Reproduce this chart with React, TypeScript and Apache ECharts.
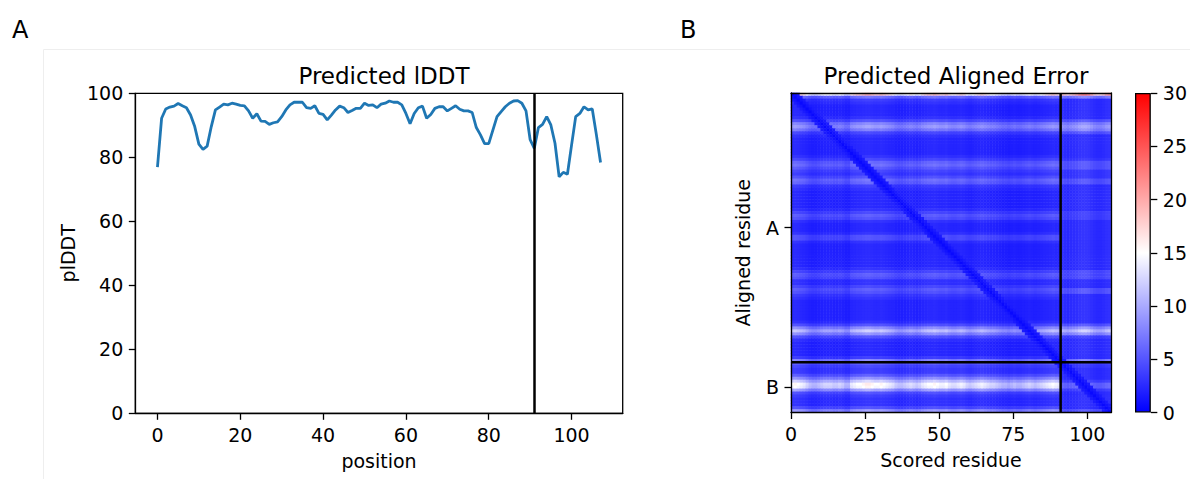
import React, { useEffect, useRef } from "react";
import * as echarts from "echarts";

// ---------- data ----------
const plddt: number[] = [
  76.9, 92.2, 95.1, 95.7, 96.0, 96.8, 96.1, 95.5, 93.2, 89.6,
  84.1, 82.5, 83.5, 89.6, 94.8, 95.7, 96.6, 96.4, 96.9, 96.6,
  96.2, 96.1, 94.5, 92.2, 93.6, 91.3, 91.2, 90.3, 90.8, 91.1,
  92.7, 94.8, 96.4, 97.2, 97.2, 97.2, 95.5, 95.3, 96.1, 93.7,
  93.4, 91.7, 93.2, 94.8, 96.0, 95.5, 94.0, 94.6, 95.3, 95.3,
  96.9, 96.2, 96.4, 95.5, 96.6, 96.9, 97.6, 97.2, 97.2, 96.4,
  93.7, 90.5, 93.7, 95.5, 96.0, 92.2, 93.4, 95.3, 95.8, 95.8,
  94.5, 95.3, 96.1, 95.0, 94.5, 94.5, 94.0, 89.3, 87.0, 84.3,
  84.3, 88.5, 92.7, 94.3, 95.8, 96.9, 97.6, 97.7, 96.9, 94.5,
  85.5, 82.8, 89.3, 90.3, 92.7, 90.1, 84.4, 73.9, 75.3, 74.7,
  83.8, 92.7, 93.7, 95.8, 94.8, 95.1, 87.0, 78.4,
];

const chainLabels = ["A", "B"];
const chainStarts = [0, 91];
const chainLengths = [91, 17];
const positionTicks = [0, 20, 40, 60, 80, 100];

// PAE level of each aligned-residue row, against scored residues of chain A
const rowErrA: number[] = [
  15, 5.5, 3, 2.5, 2, 2, 2, 2, 2.5, 4,
  6.5, 7.5, 6, 3.5, 2.5, 2, 2, 2, 2, 2,
  2, 2.5, 3.5, 5, 5.5, 4.5, 3.5, 3, 4, 5.5,
  5, 3, 2.5, 2, 2, 2, 2, 2, 2, 2.5,
  3.5, 4.5, 4, 2.5, 2, 2, 2, 2.5, 4, 4,
  2.5, 2, 2, 2, 2, 2, 2, 2, 2, 2.5,
  3.5, 4.5, 4, 2.5, 2.5, 3.5, 4.5, 4, 3, 2.5,
  2, 2, 2, 2, 2, 2, 2, 2.5, 4, 7,
  9.5, 7, 4, 2.5, 2, 2, 2, 2, 2, 3,
  6.5, 4.5, 3.5, 3, 3, 4.5, 7, 10, 12.5, 12,
  8, 4, 3, 2.5, 2.5, 2.5, 4, 7.5,
];
// PAE level of each aligned-residue row, against scored residues of chain B
const rowErrB: number[] = [
  18, 6.5, 2.5, 2.5, 2.5, 2.5, 2.5, 2.5, 2.5, 4.5,
  7, 8, 7, 4.5, 2.5, 2.5, 2.5, 2.5, 2.5, 2.5,
  2.5, 2.5, 3, 4.5, 4.5, 4.5, 3, 3, 3, 4.5,
  4.5, 2.5, 2.5, 2.5, 2.5, 2.5, 2.5, 2.5, 2.5, 2.5,
  3.5, 3.5, 3.5, 2.5, 2.5, 2.5, 2.5, 2.5, 2.5, 2.5,
  2.5, 2.5, 2.5, 2.5, 2.5, 2.5, 2.5, 2.5, 2.5, 2.5,
  4, 4, 4, 2.5, 2.5, 2.5, 4.5, 4.5, 2.5, 2.5,
  2.5, 2.5, 2.5, 2.5, 2.5, 2.5, 2.5, 2.5, 4.5, 7.5,
  10, 7.5, 3.5, 2.5, 2.5, 2.5, 2.5, 2.5, 2.5, 2.5,
  6.5, 3.5, 3, 2.5, 2.5, 2.5, 2.5, 3.5, 5.5, 5.5,
  3.5, 2.5, 2.5, 2.5, 2.5, 2.5, 2.5, 4.5,
];
// relative lightness of each scored-residue column
const colFactor: number[] = [
  1.2, 1.25, 1.2, 1.15, 1.1, 1.0,
  0.9, 0.85, 0.85, 0.9,
  0.95, 1.0, 1.0, 1.0, 0.95, 0.95, 1.0, 0.95,
  0.85, 0.85,
  1.1, 1.15, 1.2, 1.2, 1.25, 1.3, 1.3, 1.25, 1.2, 1.2, 1.25, 1.2, 1.15, 1.1, 1.05,
  0.95, 0.9, 0.9, 0.95, 1.0, 1.05, 1.0, 0.95, 1.0,
  1.1, 1.15, 1.2, 1.2, 1.25, 1.2, 1.15, 1.15, 1.2, 1.1, 1.05, 1.05, 1.1, 1.15, 1.1, 1.0, 0.95,
  1.0, 1.05, 1.1, 1.15, 1.1, 1.05, 1.0, 1.0, 0.95, 0.9,
  0.85, 0.85, 0.8, 0.85, 0.9, 0.85, 0.85, 0.9,
  0.95, 1.0, 0.95, 0.9, 0.95, 1.0,
  1.05, 1.1, 1.15, 1.2, 1.15, 1.1,
  1.05, 1.0, 0.95, 1.0, 1.05, 1.1, 1.2, 1.25, 1.25, 1.2, 1.1, 1.0, 0.95, 0.95, 1.0, 1.1, 1.15,
];
// PAE along and next to the diagonal, by |row - column|
const diagProfile = [0.5, 1.1, 1.6];
const paeTicks = { min: 0, max: 30, step: 5 };

const FONT = "DejaVu Sans";

export default function App() {
  const ref = useRef<HTMLDivElement>(null);

  useEffect(() => {
    if (!ref.current) return;
    const chart = echarts.init(ref.current, undefined, { renderer: "svg" });

    const total = chainStarts[chainStarts.length - 1] + chainLengths[chainLengths.length - 1];
    const residueCats = Array.from({ length: total }, (_, i) => String(i));
    const labelIdx = chainStarts.map((s, k) => s + Math.floor((chainLengths[k] - 1) / 2));
    const boundary = chainStarts[1];

    const cells: number[][] = [];
    for (let i = 0; i < total; i++) {
      for (let j = 0; j < total; j++) {
        const base = (j < boundary ? rowErrA[i] : rowErrB[i]) * colFactor[j];
        const d = Math.abs(i - j);
        const v = d < diagProfile.length ? Math.min(base, diagProfile[d]) : base;
        cells.push([j, i, +v.toFixed(2)]);
      }
    }

    const axisColor = "#000";
    const lbl = { fontFamily: FONT, fontSize: 19, color: "#000" };
    const nameStyle = { fontFamily: FONT, fontSize: 19, color: "#000" };
    const titleStyle = { fontFamily: FONT, fontSize: 23, fontWeight: "normal", color: "#000" };

    const option: any = {
      animation: false,
      backgroundColor: "#fff",
      textStyle: { fontFamily: FONT },
      title: [
        { text: "Predicted lDDT", left: 379, top: 59, textAlign: "center", textStyle: titleStyle },
        { text: "Predicted Aligned Error", left: 951, top: 59, textAlign: "center", textStyle: titleStyle },
      ],
      graphic: [
        { type: "line", shape: { x1: 43.5, y1: 49.5, x2: 1190, y2: 49.5 }, style: { stroke: "#eeeeee", lineWidth: 1 }, silent: true },
        { type: "line", shape: { x1: 43.5, y1: 49.5, x2: 43.5, y2: 479 }, style: { stroke: "#eeeeee", lineWidth: 1 }, silent: true },
        { type: "text", x: 12, y: 18, style: { text: "A", fontFamily: FONT, fontSize: 24, fill: "#000" } },
        { type: "text", x: 680, y: 18, style: { text: "B", fontFamily: FONT, fontSize: 24, fill: "#000" } },
      ],
      grid: [
        { left: 135.3, top: 93.3, width: 487.4, height: 320, show: true, borderColor: axisColor, borderWidth: 1.3, backgroundColor: "transparent" },
        { left: 791, top: 93, width: 320, height: 319.5 },
        { left: 1135, top: 93, width: 17, height: 319.5 },
      ],
      visualMap: {
        show: false,
        type: "continuous",
        min: paeTicks.min,
        max: paeTicks.max,
        seriesIndex: 1,
        inRange: { color: ["#0000ff", "#ffffff", "#ff0000"] },
      },
      xAxis: [
        {
          gridIndex: 0,
          type: "value",
          min: -5.35,
          max: 112.35,
          splitLine: { show: false },
          axisLine: { show: true, onZero: false, lineStyle: { color: axisColor, width: 1.3 } },
          axisTick: { show: true, length: 6.5, customValues: positionTicks, lineStyle: { color: axisColor, width: 1.3 } },
          axisLabel: { ...lbl, margin: 12, customValues: positionTicks },
          name: "position",
          nameLocation: "middle",
          nameGap: 38,
          nameTextStyle: nameStyle,
        },
        { gridIndex: 1, type: "category", data: residueCats, show: false },
        {
          gridIndex: 1,
          type: "value",
          min: 0,
          max: total,
          interval: 25,
          position: "bottom",
          z: 10,
          splitLine: { show: false },
          axisLine: { show: true, onZero: false, lineStyle: { color: axisColor, width: 1.3 } },
          axisTick: { show: true, length: 6.5, lineStyle: { color: axisColor, width: 1.3 } },
          axisLabel: { ...lbl, margin: 12, showMaxLabel: false },
          name: "Scored residue",
          nameLocation: "middle",
          nameGap: 38,
          nameTextStyle: nameStyle,
        },
        {
          gridIndex: 1,
          type: "value",
          min: 0,
          max: total,
          position: "top",
          z: 10,
          splitLine: { show: false },
          axisLine: { show: true, onZero: false, lineStyle: { color: axisColor, width: 1.3 } },
          axisTick: { show: false },
          axisLabel: { show: false },
        },
        { gridIndex: 2, type: "category", data: ["pae"], show: false },
      ],
      yAxis: [
        {
          gridIndex: 0,
          type: "value",
          min: 0,
          max: 100,
          interval: 20,
          splitLine: { show: false },
          axisLine: { show: true, onZero: false, lineStyle: { color: axisColor, width: 1.3 } },
          axisTick: { show: true, length: 6.5, lineStyle: { color: axisColor, width: 1.3 } },
          axisLabel: { ...lbl, margin: 12 },
          name: "plDDT",
          nameLocation: "middle",
          nameGap: 58,
          nameTextStyle: nameStyle,
        },
        {
          gridIndex: 1,
          type: "category",
          data: residueCats,
          inverse: true,
          z: 10,
          axisLine: { show: true, onZero: false, lineStyle: { color: axisColor, width: 1.3 } },
          axisTick: {
            show: true,
            alignWithLabel: true,
            length: 6.5,
            interval: (idx: number) => labelIdx.includes(idx),
            lineStyle: { color: axisColor, width: 1.3 },
          },
          axisLabel: {
            ...lbl,
            margin: 12,
            interval: (idx: number) => labelIdx.includes(idx),
            formatter: (_v: string, idx: number) => {
              const k = labelIdx.indexOf(idx);
              return k >= 0 ? chainLabels[k] : "";
            },
          },
          name: "Aligned residue",
          nameLocation: "middle",
          nameGap: 39,
          nameTextStyle: nameStyle,
        },
        {
          gridIndex: 1,
          type: "value",
          min: 0,
          max: total,
          inverse: true,
          position: "right",
          z: 10,
          splitLine: { show: false },
          axisLine: { show: true, onZero: false, lineStyle: { color: axisColor, width: 1.3 } },
          axisTick: { show: false },
          axisLabel: { show: false },
        },
        {
          gridIndex: 2,
          type: "value",
          min: paeTicks.min,
          max: paeTicks.max,
          interval: paeTicks.step,
          position: "right",
          splitLine: { show: false },
          axisLine: { show: false },
          axisTick: { show: true, length: 6.5, lineStyle: { color: axisColor, width: 1.3 } },
          axisLabel: { ...lbl, margin: 12 },
        },
      ],
      series: [
        {
          type: "line",
          xAxisIndex: 0,
          yAxisIndex: 0,
          data: plddt.map((v, i) => [i, v]),
          showSymbol: false,
          symbol: "none",
          color: "#1f77b4",
          lineStyle: { color: "#1f77b4", width: 2.8 },
          markLine: {
            silent: true,
            symbol: "none",
            label: { show: false },
            lineStyle: { color: "#000", width: 2.5, type: "solid" },
            data: [{ xAxis: boundary }],
          },
        },
        {
          type: "heatmap",
          xAxisIndex: 1,
          yAxisIndex: 1,
          data: cells,
          progressive: 0,
          itemStyle: { borderWidth: 0 },
          emphasis: { disabled: true },
        },
        {
          type: "line",
          xAxisIndex: 2,
          yAxisIndex: 2,
          data: [[boundary, 0], [boundary, total]],
          showSymbol: false,
          symbol: "none",
          z: 6,
          lineStyle: { color: "#000", width: 2.5 },
        },
        {
          type: "line",
          xAxisIndex: 2,
          yAxisIndex: 2,
          data: [[0, boundary], [total, boundary]],
          showSymbol: false,
          symbol: "none",
          z: 6,
          lineStyle: { color: "#000", width: 2.5 },
        },
        {
          type: "bar",
          xAxisIndex: 4,
          yAxisIndex: 3,
          data: [paeTicks.max],
          barWidth: "100%",
          itemStyle: {
            color: new echarts.graphic.LinearGradient(0, 1, 0, 0, [
              { offset: 0, color: "#0000ff" },
              { offset: 0.5, color: "#ffffff" },
              { offset: 1, color: "#ff0000" },
            ]),
            borderColor: "#000",
            borderWidth: 1.3,
          },
        },
      ],
    };

    chart.setOption(option);
    return () => chart.dispose();
  }, []);

  return (
    <div
      ref={ref}
      style={{ position: "absolute", left: 0, top: 0, width: 1190, height: 479, background: "#fff" }}
    />
  );
}
